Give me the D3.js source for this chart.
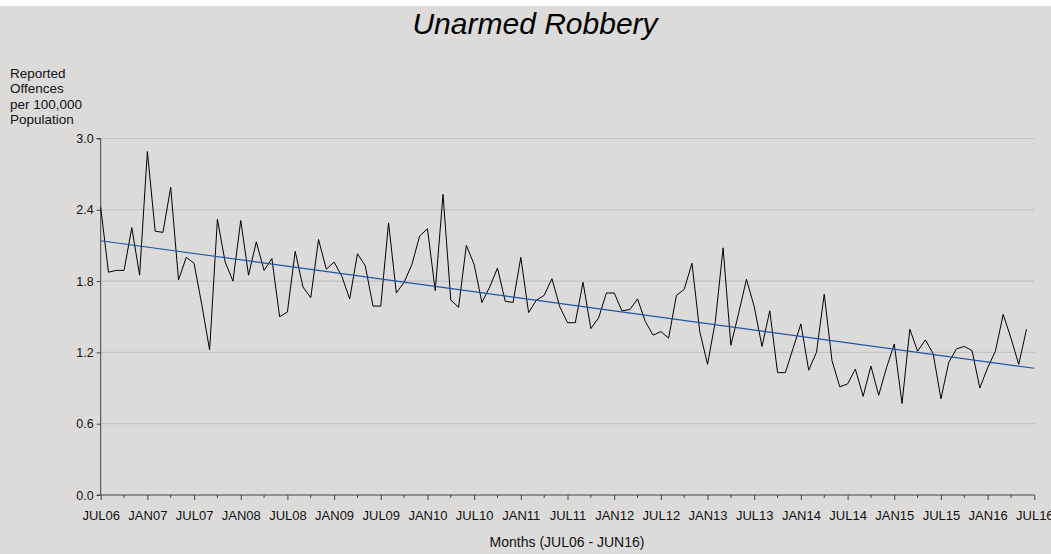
<!DOCTYPE html>
<html><head><meta charset="utf-8">
<script src="https://cdn.jsdelivr.net/npm/d3@7"></script>
<style>
html,body{margin:0;padding:0;background:#dcdbda;}
svg{display:block;font-family:"Liberation Sans",Arial,sans-serif;}
</style></head>
<body><svg id="c" width="1051" height="554"></svg>
<script>
// ---- data ----
const title = "Unarmed Robbery";
const yLabelLines = ["Reported","Offences","per 100,000","Population"];
const xAxisTitle = "Months (JUL06 - JUN16)";
const xTickLabels = ["JUL06","JAN07","JUL07","JAN08","JUL08","JAN09","JUL09","JAN10","JUL10","JAN11","JUL11","JAN12","JUL12","JAN13","JUL13","JAN14","JUL14","JAN15","JUL15","JAN16","JUL16"];
const yTicks = [0.0,0.6,1.2,1.8,2.4,3.0];
// monthly rate, JUL06 .. JUN16 (120 months)
const values = [
 2.42,1.875,1.89,1.89,2.25,1.85,2.89,2.22,2.21,2.59,1.81,2.00,
 1.95,1.60,1.22,2.32,1.96,1.80,2.31,1.85,2.13,1.89,1.99,1.50,
 1.54,2.05,1.75,1.66,2.15,1.90,1.96,1.84,1.65,2.03,1.93,1.59,
 1.59,2.29,1.70,1.79,1.94,2.18,2.24,1.72,2.53,1.64,1.58,2.10,
 1.94,1.62,1.75,1.91,1.63,1.62,2.00,1.535,1.64,1.68,1.82,1.585,
 1.45,1.45,1.79,1.40,1.49,1.70,1.70,1.55,1.56,1.65,1.46,1.345,
 1.375,1.32,1.68,1.73,1.95,1.375,1.10,1.46,2.08,1.26,1.53,1.815,
 1.585,1.25,1.55,1.03,1.03,1.235,1.44,1.05,1.20,1.69,1.13,0.91,
 0.935,1.06,0.83,1.085,0.84,1.07,1.27,0.77,1.395,1.21,1.305,1.19,
 0.81,1.115,1.23,1.25,1.215,0.90,1.07,1.21,1.52,1.32,1.10,1.395
];
// linear trend: value at month index 0 and 120
const trendMonths = [0,120];
const trendValues = [2.14,1.066];

// ---- layout ----
const svg = d3.select("#c");
const FONT = "Liberation Sans, Arial, sans-serif";
const X0 = 100.7, X1 = 1034.3, Y0 = 495, Y1 = 138.5;
const x = d3.scaleLinear().domain([0,120]).range([X0,X1]);
const y = d3.scaleLinear().domain([0,3]).range([Y0,Y1]);

// white strip at the top edge
svg.append("rect").attr("x",0).attr("y",0).attr("width",1051).attr("height",6).attr("fill","#fff");

// gridlines
svg.append("g").selectAll("line").data(yTicks.filter(d=>d>0)).join("line")
  .attr("x1",X0).attr("x2",X1).attr("y1",d=>y(d)).attr("y2",d=>y(d))
  .attr("stroke","#c3c2c1").attr("stroke-width",1.2);

// y axis
const yAxis = d3.axisLeft(y).tickValues(yTicks).tickFormat(d3.format(".1f")).tickSize(4).tickPadding(3);
const gy = svg.append("g").attr("transform",`translate(${X0},0)`).call(yAxis);
gy.select(".domain").attr("stroke","#444").attr("d",`M-4,${Y1}H0V${Y0}H-4`);
gy.selectAll(".tick line").attr("stroke","#444");
gy.selectAll("text").attr("font-size",12.5).attr("fill","#111").attr("font-family",FONT);

// x axis: major ticks every 6 months, minor every 3
const majors = d3.range(0,121,6);
const minors = d3.range(3,121,6);
const xAxis = d3.axisBottom(x).tickValues(majors).tickFormat((d,i)=>xTickLabels[i]).tickSize(5).tickPadding(10.5);
const gx = svg.append("g").attr("transform",`translate(0,${Y0})`).call(xAxis);
gx.select(".domain").attr("stroke","#444").attr("d",`M${X0},0H${X1}`);
gx.selectAll(".tick line").attr("stroke","#444");
gx.selectAll("text").attr("font-size",13).attr("fill","#111").attr("font-family",FONT);
svg.append("g").selectAll("line").data(minors).join("line")
  .attr("x1",d=>x(d)).attr("x2",d=>x(d)).attr("y1",Y0).attr("y2",Y0+3)
  .attr("stroke","#444");

// data line
const line = d3.line().x((d,i)=>x(i)).y(d=>y(d));
svg.append("path").datum(values).attr("d",line)
  .attr("fill","none").attr("stroke","#000").attr("stroke-width",1);

// trend line
svg.append("path").datum(trendValues)
  .attr("d",d3.line().x((d,i)=>x(trendMonths[i])).y(d=>y(d)))
  .attr("fill","none").attr("stroke","#1f55a6").attr("stroke-width",1.1);

// title
svg.append("text").attr("x",535).attr("y",34).attr("text-anchor","middle")
  .attr("font-size",30).attr("font-style","italic").attr("fill","#000").text(title);

// y label
svg.append("g").selectAll("text").data(yLabelLines).join("text")
  .attr("x",10).attr("y",(d,i)=>78+i*15.3).attr("font-size",13.5).attr("fill","#111").text(d=>d);

// x axis title
svg.append("text").attr("x",567).attr("y",546.5).attr("text-anchor","middle")
  .attr("font-size",14).attr("fill","#111").text(xAxisTitle);
</script></body></html>
